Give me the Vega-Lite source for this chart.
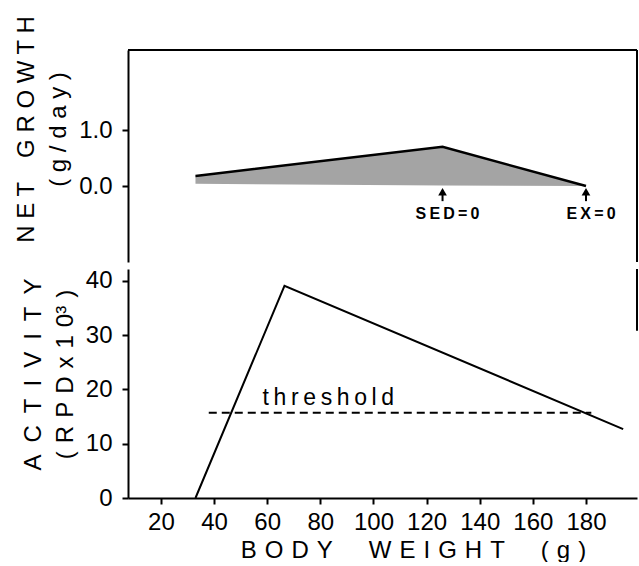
{
  "$schema": "https://vega.github.io/schema/vega-lite/v6.json",
  "background": "white",
  "padding": {"left": 14, "top": 15, "right": 0, "bottom": 0},
  "config": {
    "view": {"stroke": null},
    "font": "Liberation Sans",
    "axis": {
      "grid": false,
      "domainColor": "black",
      "domainWidth": 2,
      "tickColor": "black",
      "tickWidth": 2,
      "tickSize": 6,
      "labelColor": "black",
      "labelFontSize": 24,
      "labelFont": "Liberation Sans",
      "titleColor": "black",
      "titleFont": "Liberation Sans",
      "titleFontSize": 24,
      "titleFontWeight": "normal",
      "titleLineHeight": 32
    }
  },
  "datasets": {
    "growth": [
      {"w": 33, "upper": 0.18, "lower": 0.04},
      {"w": 126, "upper": 0.70, "lower": 0.01},
      {"w": 180, "upper": 0.0, "lower": 0.0}
    ],
    "marks": [
      {"w": 126, "label": "S\u2009E\u2009D\u2009=\u20090"},
      {"w": 180, "label": "E\u2009X\u2009=\u20090"}
    ],
    "activity": [
      {"w": 33, "rpd": 0},
      {"w": 66.5, "rpd": 39.1},
      {"w": 194, "rpd": 12.7}
    ],
    "threshold": [
      {"w": 38, "rpd": 15.7},
      {"w": 182, "rpd": 15.7}
    ],
    "one": [{"k": 1}]
  },
  "spacing": 5,
  "vconcat": [
    {
      "width": 509,
      "height": 212,
      "layer": [
        {
          "data": {"name": "growth"},
          "mark": {"type": "area", "fill": "#a4a4a4", "opacity": 1},
          "encoding": {
            "x": {"field": "w", "type": "quantitative", "scale": {"domain": [7.6, 199.2], "nice": false, "zero": false}, "axis": null},
            "y": {"field": "upper", "type": "quantitative", "scale": {"domain": [-1.357, 2.43], "nice": false, "zero": false},
              "axis": {"values": [0, 1], "format": ".1f", "labelPadding": 10, "titlePadding": 8, "titleY": 79,
                "title": ["N E T\u2003G R O W T H", "( g / d a y )"]}},
            "y2": {"field": "lower"}
          }
        },
        {
          "data": {"name": "growth"},
          "mark": {"type": "line", "color": "black", "strokeWidth": 2.5},
          "encoding": {
            "x": {"field": "w", "type": "quantitative"},
            "y": {"field": "upper", "type": "quantitative"}
          }
        },
        {
          "data": {"name": "marks"},
          "mark": {"type": "rule", "color": "black", "strokeWidth": 2},
          "encoding": {
            "x": {"field": "w", "type": "quantitative"},
            "y": {"datum": -0.27},
            "y2": {"datum": -0.08}
          }
        },
        {
          "data": {"name": "marks"},
          "mark": {"type": "point", "shape": "triangle-up", "filled": true, "color": "black", "size": 75, "opacity": 1},
          "encoding": {
            "x": {"field": "w", "type": "quantitative"},
            "y": {"datum": -0.1}
          }
        },
        {
          "data": {"name": "marks"},
          "mark": {"type": "text", "fontSize": 16, "fontWeight": "bold", "color": "black", "dx": 5, "baseline": "middle"},
          "encoding": {
            "x": {"field": "w", "type": "quantitative"},
            "y": {"datum": -0.5},
            "text": {"field": "label"}
          }
        },
        {
          "data": {"name": "one"},
          "mark": {"type": "rule", "color": "black", "strokeWidth": 2},
          "encoding": {
            "x": {"datum": 7.6},
            "x2": {"datum": 199.2},
            "y": {"datum": 2.43}
          }
        },
        {
          "data": {"name": "one"},
          "mark": {"type": "rule", "color": "black", "strokeWidth": 2},
          "encoding": {
            "x": {"datum": 199.2},
            "y": {"datum": -1.357},
            "y2": {"datum": 2.43}
          }
        }
      ]
    },
    {
      "width": 509,
      "height": 229,
      "layer": [
        {
          "data": {"name": "activity"},
          "mark": {"type": "line", "color": "black", "strokeWidth": 2},
          "encoding": {
            "x": {"field": "w", "type": "quantitative", "scale": {"domain": [7.6, 199.2], "nice": false, "zero": false},
              "axis": {"values": [20, 40, 60, 80, 100, 120, 140, 160, 180], "labelPadding": 6, "titlePadding": 4, "titleX": 285,
                "title": "B\u2004O\u2004D\u2004Y\u2003\u2002W\u2004E\u2004I\u2004G\u2004H\u2004T\u2003\u2002(\u2004g\u2004)"}},
            "y": {"field": "rpd", "type": "quantitative", "scale": {"domain": [0, 42.2], "nice": false, "zero": false},
              "axis": {"values": [0, 10, 20, 30, 40], "labelPadding": 10, "titlePadding": 8, "titleY": 105,
                "title": ["A\u2002C\u2002T\u2002I\u2002V\u2002I\u2002T\u2002Y", "(\u2004R\u2004P\u2004D\u2004x\u20041\u20040\u00b3\u2004)"]}}
          }
        },
        {
          "data": {"name": "threshold"},
          "mark": {"type": "line", "color": "black", "strokeWidth": 2, "strokeDash": [8, 5]},
          "encoding": {
            "x": {"field": "w", "type": "quantitative"},
            "y": {"field": "rpd", "type": "quantitative"}
          }
        },
        {
          "data": {"name": "one"},
          "mark": {"type": "text", "text": "t\u2009h\u2009r\u2009e\u2009s\u2009h\u2009o\u2009l\u2009d", "fontSize": 23, "color": "black", "baseline": "middle"},
          "encoding": {
            "x": {"datum": 83},
            "y": {"datum": 18.4}
          }
        },
        {
          "data": {"name": "one"},
          "mark": {"type": "rule", "color": "black", "strokeWidth": 2},
          "encoding": {
            "x": {"datum": 199.2},
            "y": {"datum": 30.8},
            "y2": {"datum": 42.2}
          }
        }
      ]
    }
  ]
}
